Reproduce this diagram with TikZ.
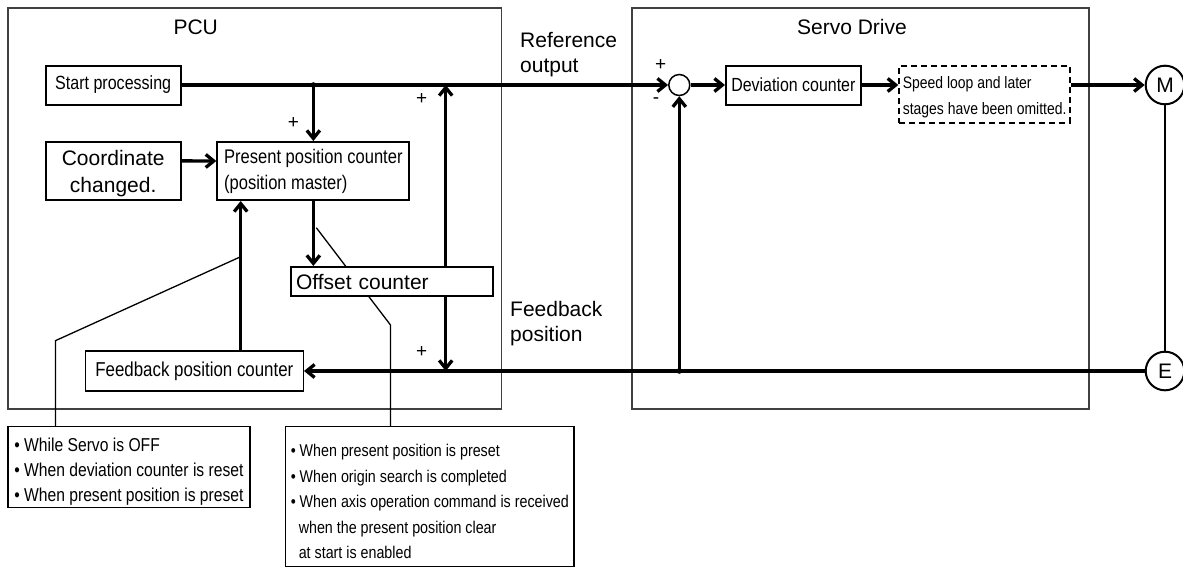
\documentclass[tikz,border=0pt]{standalone}
\usepackage{fontspec}
\setmainfont{Liberation Sans}
\newfontfamily\narrowfont[FakeStretch=0.84]{Liberation Sans}
\newcommand{\narrowsize}[2]{\narrowfont\fontsize{#1}{#2}\selectfont}
\usetikzlibrary{positioning, arrows.meta, calc}

\begin{document}
\begin{tikzpicture}[
    x=1pt, y=-1pt,
    frame/.style={draw=black!75, line width=1.3pt, inner sep=0pt},
    box/.style={draw, fill=white, line width=2pt, inner sep=0pt, align=center},
    note/.style={draw, line width=1.5pt, inner sep=0pt, align=left},
    wire/.style={line width=3.3pt},
    arr/.style={wire, -{Straight Barb[length=8pt,width=13pt]}},
    thinline/.style={line width=1.3pt},
    bigfont/.style={font=\fontsize{21}{25}\selectfont},
    sign/.style={font=\fontsize{19}{19}\selectfont, inner sep=0pt}
]
    \useasboundingbox (0,0) rectangle (1183,568);

    % Frames
    \node[frame, minimum width=493.5pt, minimum height=401pt] (pcu) at (254.75,208.5) {};
    \node[frame, minimum width=457pt, minimum height=401pt] (servo) at (860.5,208.5) {};
    \node[bigfont] (pcutitle) at (195.7,27) {PCU};
    \node[bigfont] (servotitle) at (852,27) {Servo Drive};

    % Leader lines to the notes
    \coordinate (upx) at (240.7,256.7);
    \coordinate (bend1) at (55.4,340.7);
    \coordinate (tap2) at (316.3,227.7);
    \coordinate (bend2) at (390.5,325);

    % Notes
    \node[note, minimum width=242pt, minimum height=80.6pt, font=\narrowsize{18.65}{25.3}] (note1) at (128.9,467)
        {\rule{0pt}{23pt}• While Servo is OFF\\• When deviation counter is reset\\• When present position is preset};
    \node[note, minimum width=288.6pt, minimum height=139.8pt, font=\narrowsize{17}{25.5}] (note2) at (429.8,496.6)
        {\rule{0pt}{22pt}• When present position is preset\\• When origin search is completed\\• When axis operation command is received\\
         \hspace*{8pt}when the present position clear\\\hspace*{8pt}at start is enabled};
    \draw[thinline] (upx) -- (bend1) -- (bend1 |- note1.north);
    \draw[thinline] (tap2) -- (bend2) -- (bend2 |- note2.north);

    % PCU blocks
    \node[box, minimum width=135pt, minimum height=39pt, font=\narrowsize{19.1}{23}] (start) at (113.2,85) {Start processing};
    \node[box, minimum width=135pt, minimum height=58.3pt, font=\fontsize{21}{27}\selectfont] (coord) at (113.2,170.85) {\rule{0pt}{21pt}Coordinate\\changed.};
    \node[box, align=left, minimum width=192pt, minimum height=58pt, font=\narrowsize{19.7}{26}] (ppc) at (313.35,171) {Present position counter\\(position master)};
    \node[box, align=left, minimum width=201.7pt, minimum height=29.5pt, text width=191.7pt, inner xsep=5pt, font=\fontsize{21}{25}\selectfont] (offset) at (391.85,281.7) {Offset counter};
    \node[draw, fill=white, line width=1.3pt, inner sep=0pt, minimum width=218pt, minimum height=40pt, font=\narrowsize{20.1}{24}] (fpc) at (194.35,371) {Feedback position counter};

    % Servo Drive blocks
    \node[circle, draw, line width=1.5pt, minimum size=21pt, inner sep=0pt] (sum) at (679.3,85) {};
    \node[box, minimum width=134.7pt, minimum height=39pt, font=\narrowsize{19}{23}] (dev) at (793.35,85) {Deviation counter};
    \node[draw, line width=2pt, dash pattern=on 6pt off 4pt, inner sep=0pt, minimum width=170.7pt, minimum height=56.7pt,
          align=left, font=\narrowsize{16.6}{26}] (omit) at (984.65,94.35) {\rule{0pt}{17pt}Speed loop and later\\stages have been omitted.};
    \node[circle, draw, line width=2pt, minimum size=38.6pt, inner sep=0pt, bigfont] (mot) at (1165,85) {M};
    \node[circle, draw, line width=2pt, minimum size=38.6pt, inner sep=0pt, bigfont] (enc) at (1165,371) {E};

    % Reference output path
    \coordinate (junc) at (313.35,85);
    \coordinate (tapU) at (445.7,85);
    \coordinate (tapD) at (445.7,371);
    \draw[arr] (start.east) -- (sum.west);
    \fill (junc) circle (2.8);
    \draw[arr] (junc) -- (ppc.north);
    \draw[arr] ([yshift=10pt]coord.east) -- ([yshift=10pt]ppc.west);
    \draw[arr] (ppc.south) -- (ppc.south |- offset.north);
    \draw[arr] (offset.north -| tapU) -- (tapU);
    \draw[arr] (offset.south -| tapD) -- (tapD);
    \draw[arr] (sum.east) -- (dev.west);
    \draw[arr] (dev.east) -- (dev.east -| omit.west);
    \draw[arr] (omit.east |- mot) -- (mot.west);
    \draw[line width=2pt] (mot.south) -- (enc.north);

    % Feedback path
    \coordinate (fbj) at (679.3,371);
    \draw[arr] (enc.west) -- (fpc.east);
    \fill (fbj) circle (2.8);
    \draw[arr] (fbj) -- (sum.south);
    \draw[arr] (fpc.north -| upx) -- (ppc.south -| upx);

    % Signs and labels
    \node[sign] (plus1) at (293.3,123.3) {+};
    \node[sign] (plus2) at (421.7,99) {+};
    \node[sign] (plus3) at (421.7,352) {+};
    \node[sign] (plus4) at (660.7,65) {+};
    \node[sign] (minus1) at (656,100.7) {-};
    \node[bigfont, align=left, anchor=west, inner sep=0pt] (reflbl) at (520,54.5) {Reference\\output};
    \node[bigfont, align=left, anchor=west, inner sep=0pt] (fblbl) at (510,324) {Feedback\\position};
\end{tikzpicture}
\end{document}
